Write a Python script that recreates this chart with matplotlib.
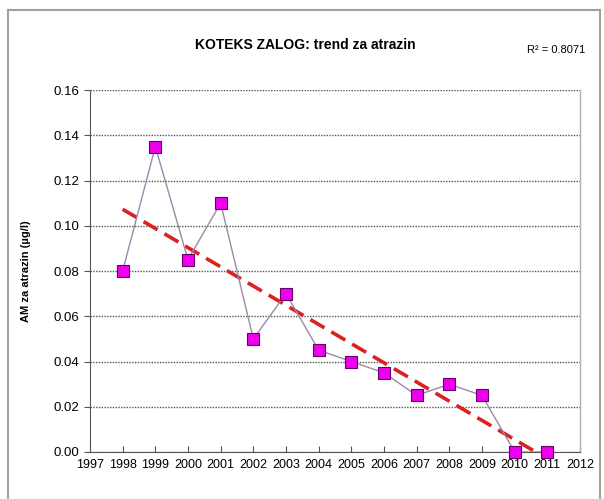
import numpy as np
import matplotlib
matplotlib.use("Agg")
import matplotlib.pyplot as plt
from matplotlib.lines import Line2D

years = [1998, 1999, 2000, 2001, 2002, 2003, 2004, 2005, 2006, 2007, 2008, 2009, 2010, 2011]
values = [0.08, 0.135, 0.085, 0.11, 0.05, 0.07, 0.045, 0.04, 0.035, 0.025, 0.03, 0.025, 0.0, 0.0]
xticks = list(range(1997, 2013))
yticks = [0.0, 0.02, 0.04, 0.06, 0.08, 0.10, 0.12, 0.14, 0.16]
title = "KOTEKS ZALOG: trend za atrazin"
ylabel = "AM za atrazin (µg/l)"
r2_text = "R² = 0.8071"

plt.rcParams['font.family'] = ['Liberation Sans', 'DejaVu Sans']

fig = plt.figure(figsize=(6.04, 4.99), dpi=100)
ax = fig.add_axes([90/604, 1-452/499, (580-90)/604, (452-90)/499])

# trend line (linear fit, clipped at axis minimum)
x = np.array(years, dtype=float)
y = np.array(values)
m, b = np.polyfit(x, y, 1)
x0 = x[0]
x1 = min(x[-1], -b/m)
ax.plot([x0, x1], [m*x0+b, m*x1+b], color='#dd2020', lw=2.6, ls=(0, (4.5, 2.2)), zorder=3)

ax.plot(years, values, color='#9a8aa8', lw=1.0, zorder=4)
ax.plot(years, values, ls='none', marker='s', ms=8, mfc='#ee00ee', mec='#660066', mew=0.8, zorder=5, clip_on=False)

ax.set_xlim(1997, 2012)
ax.set_ylim(0, 0.16)
ax.set_xticks(xticks)
ax.set_xticklabels([str(v) for v in xticks], fontsize=9)
ax.set_yticks(yticks)
ax.set_yticklabels([f"{v:.2f}" for v in yticks], fontsize=9.5)
ax.yaxis.grid(True, color='#555555', ls=(0, (1, 1)), lw=1.0)
ax.set_axisbelow(True)
ax.tick_params(axis='x', direction='in', length=4, color='#555555', pad=5)
ax.tick_params(axis='y', direction='out', length=4, color='#555555', pad=4)
ax.spines['left'].set_color('#555555')
ax.spines['bottom'].set_color('#555555')
ax.spines['top'].set_visible(False)
ax.spines['right'].set_color('#b0b0b0')
ax.spines['right'].set_linewidth(1.0)
ax.set_ylabel(ylabel, fontsize=8, fontweight='bold', labelpad=16)

fig.text(305/604, 1-45/499, title, ha='center', va='center', fontsize=10, fontweight='bold')
fig.text(556/604, 1-50/499, r2_text, ha='center', va='center', fontsize=8)

# outer chart border
fig.add_artist(Line2D([8/604, 8/604], [0, 1-10/499], color='#a0a0a0', lw=1.5, transform=fig.transFigure))
fig.add_artist(Line2D([8/604, 600/604], [1-10/499, 1-10/499], color='#a0a0a0', lw=1.5, transform=fig.transFigure))
fig.add_artist(Line2D([600/604, 600/604], [0, 1-10/499], color='#a0a0a0', lw=1.5, transform=fig.transFigure))

fig.savefig("out.png", dpi=100)
